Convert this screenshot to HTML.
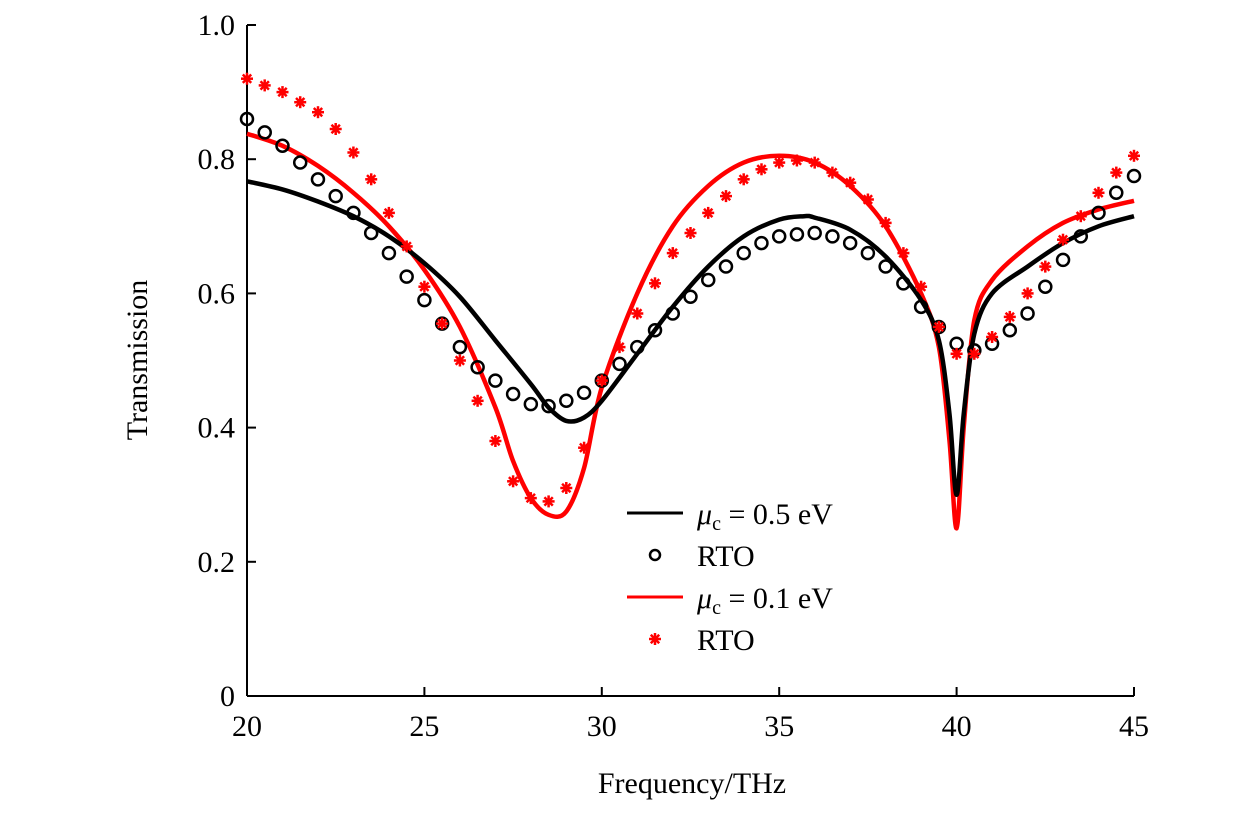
<!DOCTYPE html>
<html><head><meta charset="utf-8"><style>
body{margin:0;background:#fff}
svg text{font-family:"Liberation Serif",serif;fill:#000}
</style></head><body>
<svg id="chart" width="1260" height="819" xmlns="http://www.w3.org/2000/svg">
<g id="axes"></g>
<g id="series"></g>
<g id="legend">
 <line x1="627" y1="513" x2="683" y2="513" stroke="#000" stroke-width="3"/>
 <text x="697" y="524" font-size="30"><tspan font-style="italic">μ</tspan><tspan font-size="20" dy="6">c</tspan><tspan dy="-6"> = 0.5 eV</tspan></text>
 <circle cx="655" cy="555" r="5" fill="none" stroke="#000" stroke-width="2.5"/>
 <text x="697" y="566" font-size="30">RTO</text>
 <line x1="627" y1="597" x2="683" y2="597" stroke="#f00" stroke-width="3"/>
 <text x="697" y="608" font-size="30"><tspan font-style="italic">μ</tspan><tspan font-size="20" dy="6">c</tspan><tspan dy="-6"> = 0.1 eV</tspan></text>
 <g transform="translate(655,639)" stroke="#f00" stroke-width="2.5">
  <line x1="-6" y1="0" x2="6" y2="0"/><line x1="0" y1="-6" x2="0" y2="6"/><line x1="-4.2" y1="-4.2" x2="4.2" y2="4.2"/><line x1="-4.2" y1="4.2" x2="4.2" y2="-4.2"/>
 </g>
 <text x="697" y="650" font-size="30">RTO</text>
</g>
<text x="692" y="793" font-size="30" text-anchor="middle">Frequency/THz</text>
<text x="0" y="0" font-size="30" text-anchor="middle" transform="translate(147,360) rotate(-90)">Transmission</text>
</svg>
<script>
const xTicks=[20,25,30,35,40,45];
const yTicks=[0,0.2,0.4,0.6,0.8,1.0];
const yTickLabels=["0","0.2","0.4","0.6","0.8","1.0"];
const blackFreq=[20,21,22,23,24,25,26,27,28,28.5,29,29.5,30,31,32,33,34,35,35.7,36,37,38,39,39.5,39.8,40,40.2,40.5,41,42,43,44,45];
const blackVals=[0.767,0.755,0.737,0.715,0.685,0.645,0.595,0.53,0.465,0.43,0.41,0.415,0.44,0.51,0.58,0.64,0.685,0.71,0.715,0.713,0.695,0.655,0.59,0.53,0.42,0.3,0.42,0.54,0.6,0.64,0.675,0.7,0.715];
const redFreq=[20,21,22,23,24,25,26,27,27.5,28,28.5,29,29.5,30,31,32,33,34,35,36,37,38,39,39.5,39.8,40,40.2,40.5,41,42,43,44,45];
const redVals=[0.838,0.82,0.79,0.75,0.7,0.635,0.55,0.43,0.35,0.295,0.27,0.275,0.34,0.46,0.6,0.7,0.76,0.795,0.805,0.795,0.76,0.7,0.6,0.52,0.38,0.25,0.4,0.56,0.62,0.67,0.705,0.725,0.738];
const markerFreq=[20,20.5,21,21.5,22,22.5,23,23.5,24,24.5,25,25.5,26,26.5,27,27.5,28,28.5,29,29.5,30,30.5,31,31.5,32,32.5,33,33.5,34,34.5,35,35.5,36,36.5,37,37.5,38,38.5,39,39.5,40,40.5,41,41.5,42,42.5,43,43.5,44,44.5,45];
const circleVals=[0.86,0.84,0.82,0.795,0.77,0.745,0.72,0.69,0.66,0.625,0.59,0.555,0.52,0.49,0.47,0.45,0.435,0.432,0.44,0.452,0.47,0.495,0.52,0.545,0.57,0.595,0.62,0.64,0.66,0.675,0.685,0.688,0.69,0.685,0.675,0.66,0.64,0.615,0.58,0.55,0.525,0.515,0.525,0.545,0.57,0.61,0.65,0.685,0.72,0.75,0.775];
const starVals=[0.92,0.91,0.9,0.885,0.87,0.845,0.81,0.77,0.72,0.67,0.61,0.555,0.5,0.44,0.38,0.32,0.295,0.29,0.31,0.37,0.47,0.52,0.57,0.615,0.66,0.69,0.72,0.745,0.77,0.785,0.795,0.798,0.795,0.78,0.765,0.74,0.705,0.66,0.61,0.55,0.51,0.51,0.535,0.565,0.6,0.64,0.68,0.715,0.75,0.78,0.805];

const NS="http://www.w3.org/2000/svg";
const X0=247,X1=1134,Y0=696,Y1=25;
const sx=f=>X0+(f-20)/25*(X1-X0);
const sy=v=>Y0-v*(Y0-Y1);
function mk(tag,attrs,parent){const e=document.createElementNS(NS,tag);for(const k in attrs)e.setAttribute(k,attrs[k]);parent.appendChild(e);return e;}
const axes=document.getElementById('axes'),series=document.getElementById('series');
let a=mk('line',{x1:X0,y1:Y0,x2:X1,y2:Y0,stroke:'#000','stroke-width':2},axes);


a=mk('line',{x1:X0,y1:Y0,x2:X0,y2:Y1,stroke:'#000','stroke-width':2},axes);


xTicks.forEach(t=>{
 const l=mk('line',{x1:sx(t),y1:Y0,x2:sx(t),y2:Y0-9,stroke:'#000','stroke-width':2},axes);
 
 
 const tx=mk('text',{x:sx(t),y:Y0+40,'font-size':30,'text-anchor':'middle'},axes);
 tx.textContent=t;
 
 
});
yTicks.forEach((t,i)=>{
 const l=mk('line',{x1:X0,y1:sy(t),x2:X0+9,y2:sy(t),stroke:'#000','stroke-width':2},axes);
 
 
 const tx=mk('text',{x:X0-12,y:sy(t)+10,'font-size':30,'text-anchor':'end'},axes);
 tx.textContent=yTickLabels[i];
 
 
});
function path(fr,vals){
 const pts=fr.map((f,i)=>[sx(f),sy(vals[i])]);
 let d='M'+pts[0][0].toFixed(1)+','+pts[0][1].toFixed(1);
 for(let i=0;i<pts.length-1;i++){
  const p0=pts[Math.max(0,i-1)],p1=pts[i],p2=pts[i+1],p3=pts[Math.min(pts.length-1,i+2)];
  const t=0.16;
  d+=' C'+(p1[0]+(p2[0]-p0[0])*t).toFixed(1)+','+(p1[1]+(p2[1]-p0[1])*t).toFixed(1)+' '+(p2[0]-(p3[0]-p1[0])*t).toFixed(1)+','+(p2[1]-(p3[1]-p1[1])*t).toFixed(1)+' '+p2[0].toFixed(1)+','+p2[1].toFixed(1);
 }
 return d;
}
let p=mk('path',{d:path(redFreq,redVals),fill:'none',stroke:'#f00','stroke-width':4.5,'stroke-linejoin':'round'},series);


p=mk('path',{d:path(blackFreq,blackVals),fill:'none',stroke:'#000','stroke-width':4.5,'stroke-linejoin':'round'},series);


markerFreq.forEach((f,i)=>{
 const c=mk('circle',{cx:sx(f),cy:sy(circleVals[i]),r:6,fill:'none',stroke:'#000','stroke-width':2.5},series);
 
 
 const g=mk('g',{transform:'translate('+sx(f).toFixed(1)+','+sy(starVals[i]).toFixed(1)+')',stroke:'#f00','stroke-width':2.5},series);
 
 
 mk('line',{x1:-6,y1:0,x2:6,y2:0},g);
 mk('line',{x1:0,y1:-6,x2:0,y2:6},g);
 mk('line',{x1:-4.2,y1:-4.2,x2:4.2,y2:4.2},g);
 mk('line',{x1:-4.2,y1:4.2,x2:4.2,y2:-4.2},g);
});
</script>
</body></html>
